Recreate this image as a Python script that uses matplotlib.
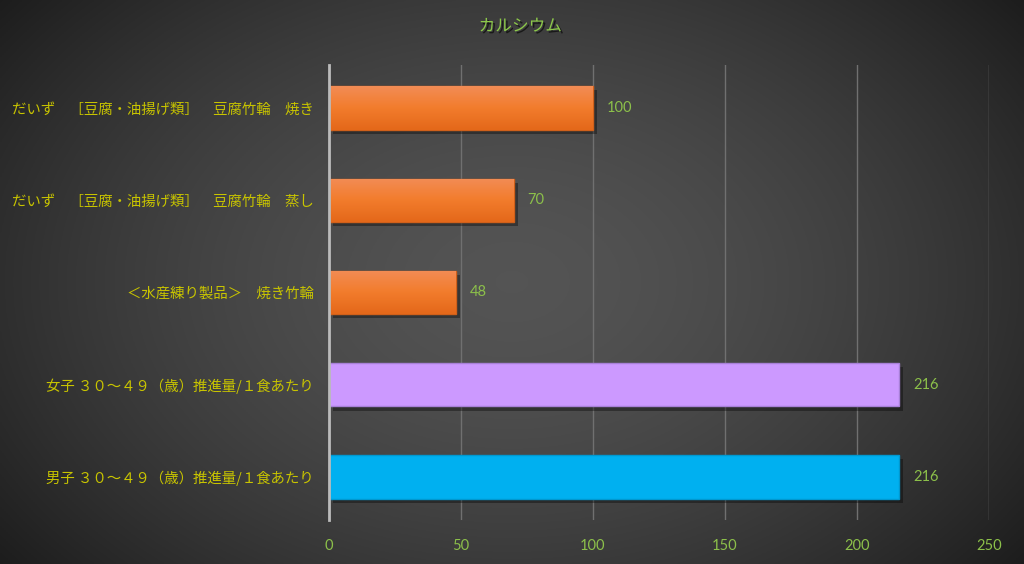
import numpy as np
import matplotlib
matplotlib.use("Agg")
import matplotlib.pyplot as plt
import matplotlib.patheffects as pe
from matplotlib.colors import LinearSegmentedColormap

plt.rcParams['font.family'] = ['Noto Sans CJK JP', 'DejaVu Sans']

# data
labels = ["だいず　［豆腐・油揚げ類］　豆腐竹輪　焼き",
          "だいず　［豆腐・油揚げ類］　豆腐竹輪　蒸し",
          "＜水産練り製品＞　焼き竹輪",
          "女子 ３０～４９（歳）推進量/１食あたり",
          "男子 ３０～４９（歳）推進量/１食あたり"]
values = [100, 70, 48, 216, 216]
colors = ["#F07C2E", "#F07C2E", "#F07C2E", "#CC99FF", "#00B0F0"]
edges = ["#D0601A", "#D0601A", "#D0601A", "#A880D8", "#0098D0"]
gradient = [True, True, True, False, False]
ticks = [0, 50, 100, 150, 200, 250]
title = "カルシウム"

fig = plt.figure(figsize=(10.24, 5.64), dpi=100)

# radial gradient background
bg = fig.add_axes([0, 0, 1, 1])
yy, xx = np.mgrid[-1:1:300j, -1:1:500j]
r = np.sqrt((xx * 0.95) ** 2 + (yy * 0.75) ** 2)
g = np.clip(0.33 - 0.16 * r ** 1.6, 0.1, 0.4)
bg.imshow(np.dstack([g, g, g]), aspect='auto', extent=[0, 1, 0, 1])
bg.axis('off')

ax = fig.add_axes([0.3213, 0.078, 0.6445, 0.8068])
ax.patch.set_alpha(0)
pos = np.arange(len(values))
h = 0.47
bars = ax.barh(pos, values, height=h, color=colors, edgecolor=edges, linewidth=1, zorder=3)
orange = LinearSegmentedColormap.from_list('o', ['#F38C55', '#F27C2C', '#E4681A'])
grad = np.linspace(0, 1, 64).reshape(-1, 1)
for b, p, v, gflag in zip(bars, pos, values, gradient):
    b.set_path_effects([pe.SimplePatchShadow(offset=(3, -3), shadow_rgbFace='black', alpha=0.35), pe.Normal()])
    if gflag:
        im = ax.imshow(grad, cmap=orange, aspect='auto', extent=[0, v, p + h / 2, p - h / 2],
                       zorder=3.5, interpolation='bilinear')
        im.set_clip_path(b)

for p, v in zip(pos, values):
    ax.annotate(str(v), (v, p), xytext=(10, 0), textcoords='offset points',
                va='center', ha='left', color='#8CC04A', fontsize=10.5, family=['Lato', 'DejaVu Sans'])

ax.set_xlim(0, 250)
ax.set_ylim(4.466, -0.466)
ax.set_aspect('auto')
ax.set_xticks(ticks)
ax.set_xticklabels([str(t) for t in ticks], color='#8CC04A', fontsize=10.5, family=['Lato', 'DejaVu Sans'])
ax.set_yticks(pos)
ax.set_yticklabels(labels, color='#C8C400', fontsize=10.4)
ax.tick_params(axis='both', length=0)
ax.tick_params(axis='x', pad=14)
ax.tick_params(axis='y', pad=11)
ax.grid(axis='x', color='#707070', linewidth=1, zorder=0)
for s in ['top', 'right', 'bottom']:
    ax.spines[s].set_visible(False)
ax.spines['left'].set_color('#BBBBBB')
ax.spines['left'].set_linewidth(2)
ax.spines['left'].set_zorder(4)

fig.text(0.508, 0.953, title, ha='center', va='center', color='#8CC84A', fontsize=12,
         path_effects=[pe.withSimplePatchShadow(offset=(1.5, -1.5), shadow_rgbFace='black', alpha=0.6)])

fig.savefig("out.png", dpi=100)
